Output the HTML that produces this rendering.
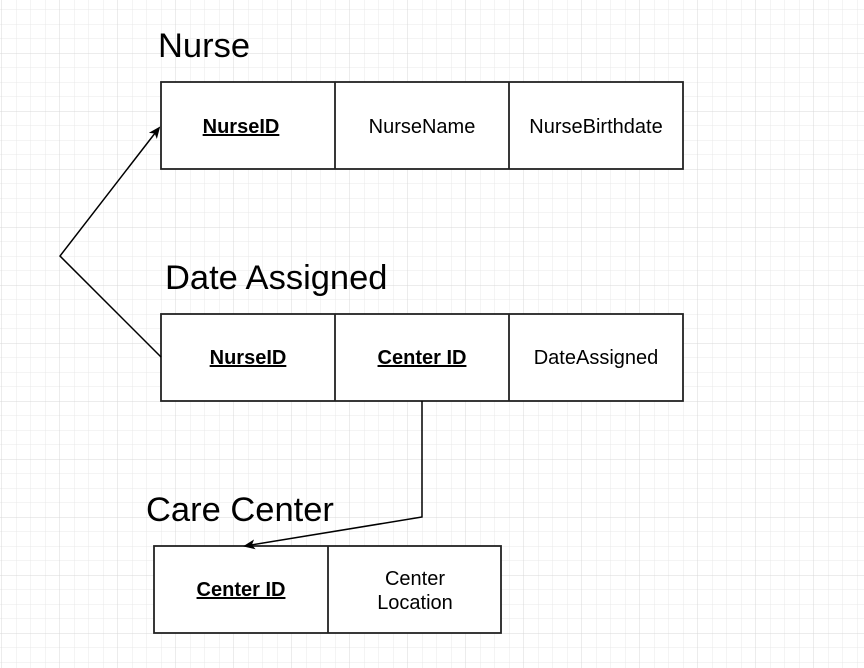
<!DOCTYPE html>
<html><head><style>
html,body{margin:0;padding:0;background:#fff;}
svg{display:block;}
text{font-family:"Liberation Sans",Arial,sans-serif;}
</style></head><body>
<svg width="864" height="668" viewBox="0 0 864 668" xmlns="http://www.w3.org/2000/svg">
<defs>
<pattern id="minor" x="1.5" y="-5" width="14.5" height="14.5" patternUnits="userSpaceOnUse">
<path d="M0 0H14.5M0 0V14.5" stroke="#e8e8e8" stroke-width="1" fill="none"/>
</pattern>
<pattern id="major" x="1.5" y="-5" width="58" height="58" patternUnits="userSpaceOnUse">
<path d="M0 0H58M0 0V58" stroke="#d8d8d8" stroke-width="1" fill="none"/>
</pattern>
<marker id="arr" markerWidth="12" markerHeight="10" refX="10" refY="5" orient="auto" markerUnits="userSpaceOnUse">
<path d="M0 0L12 5L0 10L3 5Z" fill="#000"/>
</marker>
</defs>
<rect width="864" height="668" fill="#fff"/>
<rect width="864" height="668" fill="url(#minor)"/>
<rect width="864" height="668" fill="url(#major)"/>

<g stroke="#222" stroke-width="1.8" fill="#fff">
<rect x="161" y="82" width="522" height="87"/>
<line x1="335" y1="82" x2="335" y2="169"/>
<line x1="509" y1="82" x2="509" y2="169"/>
<rect x="161" y="314" width="522" height="87"/>
<line x1="335" y1="314" x2="335" y2="401"/>
<line x1="509" y1="314" x2="509" y2="401"/>
<rect x="154" y="546" width="347" height="87"/>
<line x1="328" y1="546" x2="328" y2="633"/>
</g>

<polyline points="161,357 60,256 159,128" fill="none" stroke="#000" stroke-width="1.5" marker-end="url(#arr)"/>
<polyline points="422,401 422,517 245,546" fill="none" stroke="#000" stroke-width="1.5" marker-end="url(#arr)"/>

<text x="158" y="57" font-size="34.5">Nurse</text>
<text x="165" y="289" font-size="34.5">Date Assigned</text>
<text x="146" y="521" font-size="34.5">Care Center</text>

<g font-size="20" text-anchor="middle">
<text x="241" y="133" font-weight="bold" text-decoration="underline">NurseID</text>
<text x="422" y="133">NurseName</text>
<text x="596" y="133">NurseBirthdate</text>
<text x="248" y="364" font-weight="bold" text-decoration="underline">NurseID</text>
<text x="422" y="364" font-weight="bold" text-decoration="underline">Center ID</text>
<text x="596" y="364">DateAssigned</text>
<text x="241" y="596" font-weight="bold" text-decoration="underline">Center ID</text>
<text x="415" y="585">Center</text>
<text x="415" y="609">Location</text>
</g>
</svg>
</body></html>
